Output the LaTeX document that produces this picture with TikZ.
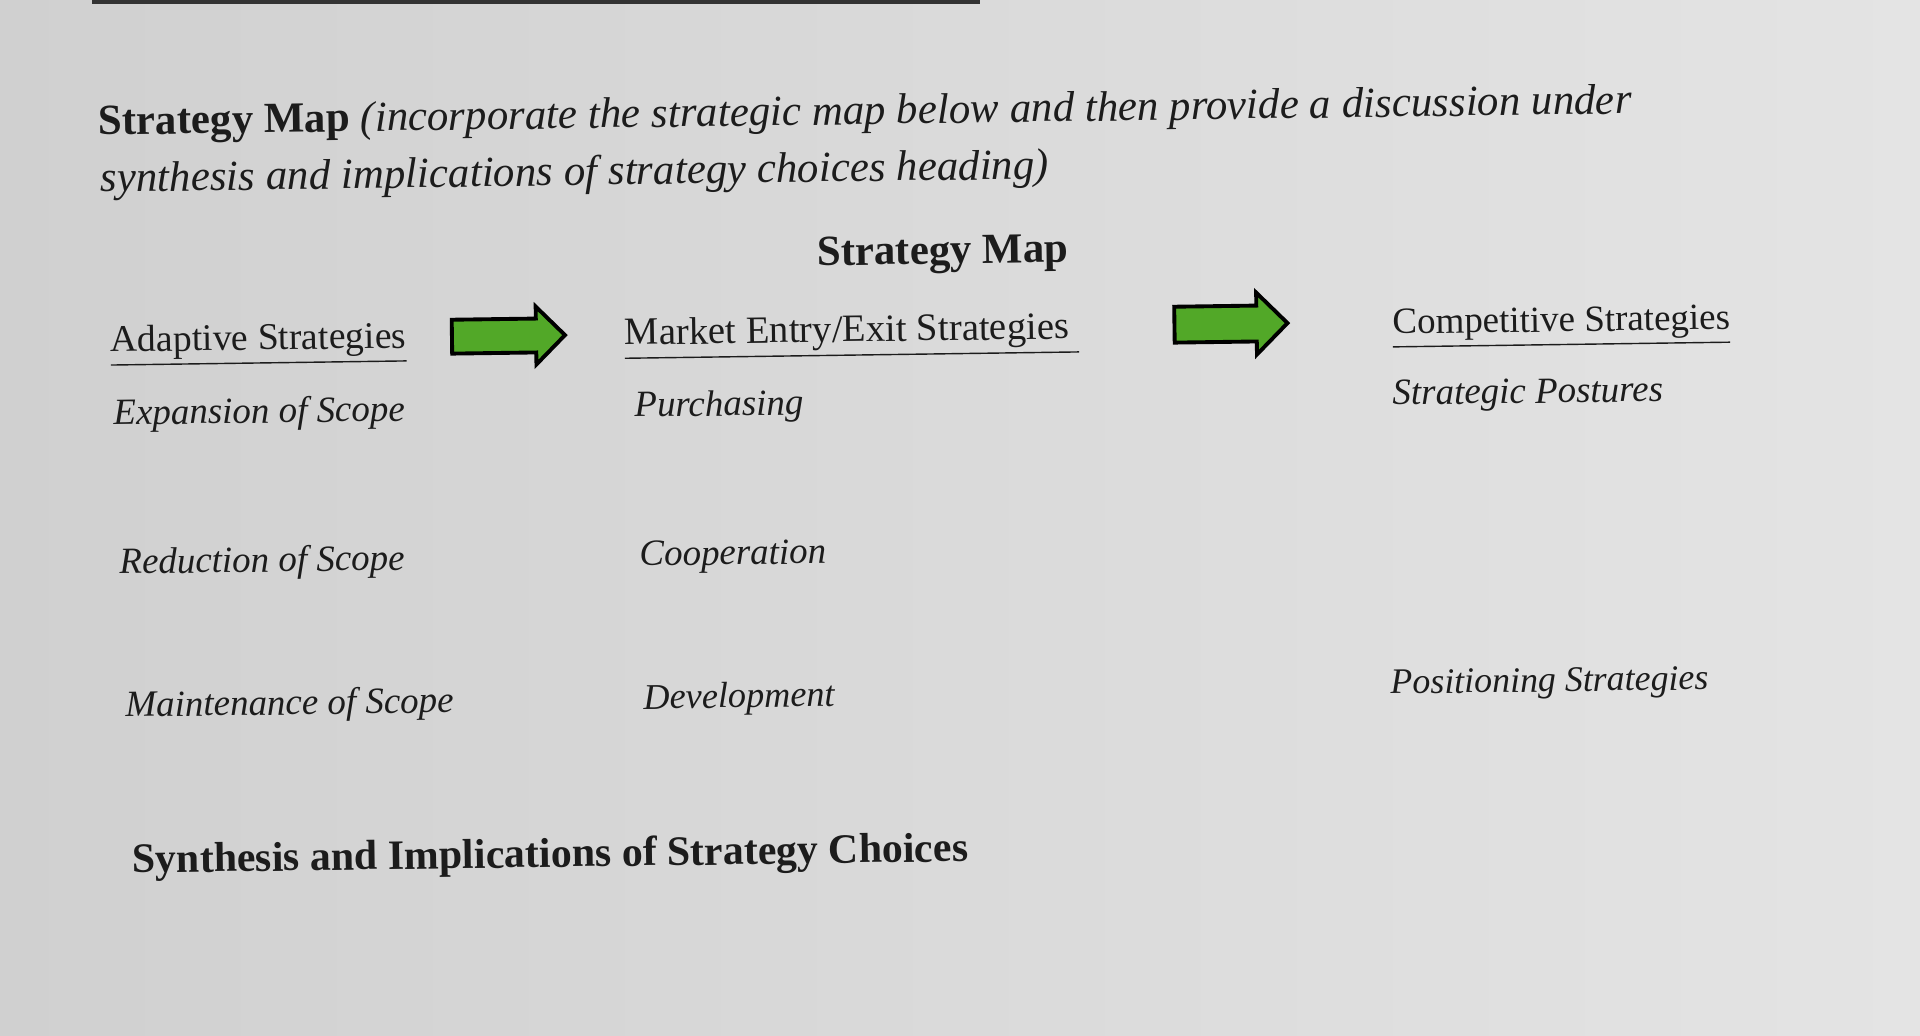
\documentclass[tikz,border=0pt]{standalone}
\usepackage{fontspec}
\setmainfont{Liberation Serif}
\usetikzlibrary{shapes.arrows,positioning}
\definecolor{arrowgreen}{RGB}{82,168,40}
\definecolor{inkgray}{RGB}{28,28,28}

\begin{document}
\begin{tikzpicture}[x=0.01cm, y=-0.01cm,
    every node/.style={inner sep=0pt, text=inkgray, rotate=0.8},
    colhead/.style={anchor=base west, font=\fontsize{10.7}{13}\selectfont},
    entry/.style={anchor=base west, font=\fontsize{10.5}{13}\selectfont\itshape},
    bigarrow/.style={single arrow, draw=black, line width=1.1pt, fill=arrowgreen,
      minimum height=1.13cm, inner xsep=0pt, inner ysep=0.15cm,
      single arrow head extend=0.12cm}]
  % page
  \useasboundingbox (0,0) rectangle (1920,1036);
  \shade[left color={rgb,255:red,208;green,208;blue,208},
         right color={rgb,255:red,228;green,228;blue,228}] (0,0) rectangle (1920,1036);
  \draw[line width=0.9pt, gray!40!black] (92,2) -- (980,2);

  % heading
  \node[anchor=base west, font=\fontsize{12.2}{15}\selectfont] (title) at (98,135)
    {\textbf{Strategy Map} \textit{(incorporate the strategic map below and then provide a discussion under}};
  \node[anchor=base west, font=\fontsize{12.2}{15}\selectfont\itshape] (title2) at (100,192)
    {synthesis and implications of strategy choices heading)};
  \node[anchor=base, font=\fontsize{12.2}{15}\selectfont\bfseries] (map) at (943,264) {Strategy Map};

  % columns
  \node[colhead] (adapt) at (110,352) {\underline{Adaptive Strategies}};
  \node[colhead, font=\fontsize{11}{13}\selectfont] (market) at (624,345) {\underline{Market Entry/Exit Strategies\ }};
  \node[colhead, font=\fontsize{10.5}{13}\selectfont] (compet) at (1392,334) {\underline{Competitive Strategies}};

  \node[entry] (expand) at (113,425) {Expansion of Scope};
  \node[entry] (reduce) at (119,574) {Reduction of Scope};
  \node[entry] (maintain) at (125,717) {Maintenance of Scope};

  \node[entry] (purch) at (634,417) {Purchasing};
  \node[entry] (coop) at (639,566) {Cooperation};
  \node[entry, font=\fontsize{10.3}{13}\selectfont\itshape] (develop) at (643,709) {Development};

  \node[entry] (posture) at (1392,405) {Strategic Postures};
  \node[entry, font=\fontsize{10.2}{13}\selectfont\itshape] (position) at (1390,694) {Positioning Strategies};

  % arrows
  \node[bigarrow] (arrA) at (500,336) {};
  \node[bigarrow, inner ysep=0.16cm, single arrow head extend=0.13cm] (arrB) at (1222,324) {};

  \node[anchor=base west, font=\fontsize{11.9}{14}\selectfont\bfseries] (synth) at (132,873)
    {Synthesis and Implications of Strategy Choices};
\end{tikzpicture}
\end{document}
